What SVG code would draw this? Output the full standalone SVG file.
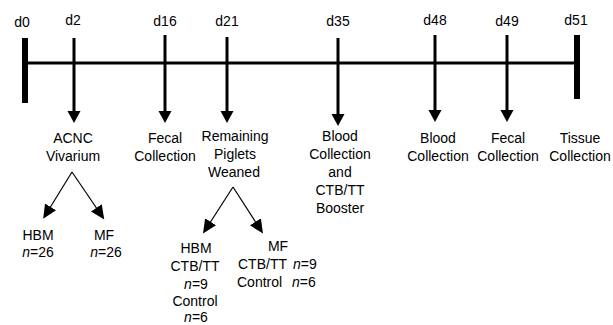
<svg xmlns="http://www.w3.org/2000/svg" width="613" height="325" viewBox="0 0 613 325">
<style>
text{font-family:"Liberation Sans",Arial,sans-serif;font-size:14px;fill:#000}
.c{text-anchor:middle}
.tl{stroke:#000;stroke-width:3;fill:none}
.bar{stroke:#000;stroke-width:6;fill:none}
.va{stroke:#000;stroke-width:3;fill:none;marker-end:url(#bigHead)}
.ba{stroke:#000;stroke-width:1.2;fill:none;marker-end:url(#smallHead)}
</style>
<defs>
<marker id="bigHead" markerUnits="userSpaceOnUse" markerWidth="14" markerHeight="14" refX="2" refY="6.5" orient="auto" viewBox="0 0 14 14">
<path d="M0,0 L12,6.5 L0,13 z" fill="#000"/>
</marker>
<marker id="smallHead" markerUnits="userSpaceOnUse" markerWidth="16" markerHeight="16" refX="2" refY="6.5" orient="auto" viewBox="0 0 16 16">
<path d="M0,0 L14,6.5 L0,13 z" fill="#000"/>
</marker>
</defs>
<g id="timeline">
<line class="tl" x1="27" y1="63" x2="577" y2="63"/>
<line class="bar" x1="25" y1="38" x2="25" y2="103"/>
<line class="bar" x1="577" y1="35" x2="577" y2="99"/>
</g>
<g id="connectors">
<line class="va" x1="74" y1="38" x2="74" y2="113"/>
<line class="va" x1="165" y1="35" x2="165" y2="113"/>
<line class="va" x1="227" y1="37" x2="227" y2="113"/>
<line class="va" x1="338" y1="38" x2="338" y2="116"/>
<line class="va" x1="435" y1="35" x2="435" y2="112"/>
<line class="va" x1="507" y1="35" x2="507" y2="112"/>
<line class="ba" x1="72" y1="172" x2="49.5" y2="208.5"/>
<line class="ba" x1="72" y1="172" x2="97.5" y2="209.5"/>
<line class="ba" x1="233" y1="187" x2="209.5" y2="223.5"/>
<line class="ba" x1="233" y1="187" x2="256.5" y2="223.5"/>
</g>
<g id="day-labels">
<text class="c" x="22" y="27">d0</text>
<text class="c" x="73" y="25">d2</text>
<text class="c" x="165" y="26">d16</text>
<text class="c" x="227" y="26">d21</text>
<text class="c" x="338" y="26">d35</text>
<text class="c" x="435" y="25">d48</text>
<text class="c" x="507" y="26">d49</text>
<text class="c" x="576" y="25">d51</text>
</g>
<g id="node-acnc">
<text class="c" x="73" y="143">ACNC</text>
<text class="c" x="73" y="161">Vivarium</text>
</g>
<g id="node-fecal16">
<text class="c" x="165" y="143">Fecal</text>
<text class="c" x="165" y="161">Collection</text>
</g>
<g id="node-weaned">
<text class="c" x="235" y="141">Remaining</text>
<text class="c" x="235" y="159">Piglets</text>
<text class="c" x="234" y="177">Weaned</text>
</g>
<g id="node-blood35">
<text class="c" x="340" y="141">Blood</text>
<text class="c" x="340" y="159">Collection</text>
<text class="c" x="340" y="177">and</text>
<text class="c" x="340" y="195">CTB/TT</text>
<text class="c" x="340" y="213">Booster</text>
</g>
<g id="node-blood48">
<text class="c" x="438" y="143">Blood</text>
<text class="c" x="438" y="161">Collection</text>
</g>
<g id="node-fecal49">
<text class="c" x="508" y="143">Fecal</text>
<text class="c" x="508" y="161">Collection</text>
</g>
<g id="node-tissue">
<text class="c" x="580" y="143">Tissue</text>
<text class="c" x="580" y="161">Collection</text>
</g>
<g id="node-hbm1">
<text class="c" x="38" y="240">HBM</text>
<text class="c" x="38" y="257"><tspan font-style="italic">n</tspan>=26</text>
</g>
<g id="node-mf1">
<text class="c" x="104" y="240">MF</text>
<text class="c" x="106" y="257"><tspan font-style="italic">n</tspan>=26</text>
</g>
<g id="node-hbm2">
<text class="c" x="196" y="253">HBM</text>
<text class="c" x="195" y="271">CTB/TT</text>
<text class="c" x="196" y="289"><tspan font-style="italic">n</tspan>=9</text>
<text class="c" x="195" y="306">Control</text>
<text class="c" x="196" y="322"><tspan font-style="italic">n</tspan>=6</text>
</g>
<g id="node-mf2">
<text class="c" x="278" y="251">MF</text>
<text x="238" y="269">CTB/TT</text>
<text x="293" y="269"><tspan font-style="italic">n</tspan>=9</text>
<text x="237" y="287">Control</text>
<text x="292" y="287"><tspan font-style="italic">n</tspan>=6</text>
</g>
</svg>
